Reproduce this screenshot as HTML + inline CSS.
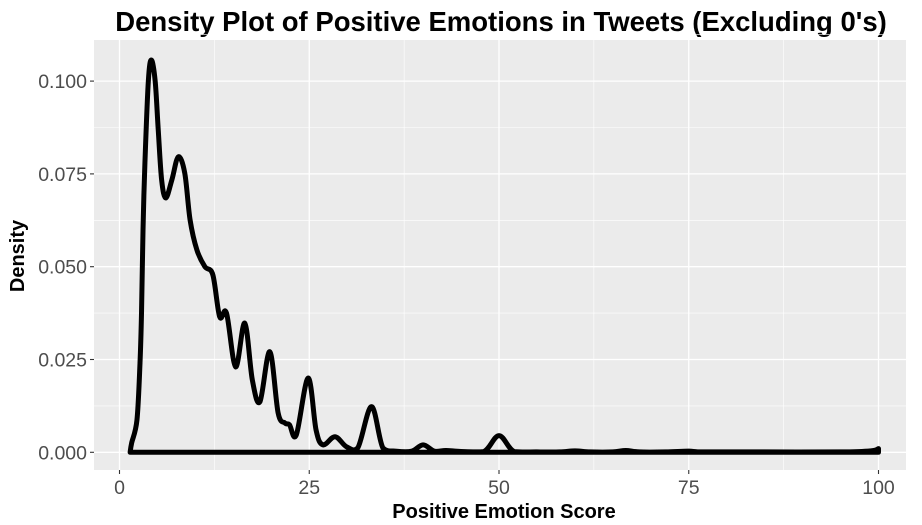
<!DOCTYPE html>
<html><head><meta charset="utf-8"><style>
body{margin:0;background:#fff;}
svg{display:block;font-family:"Liberation Sans",Arial,sans-serif;}
</style></head><body>
<svg id="chart" width="922" height="525">
<text x="501" y="31" text-anchor="middle" font-size="27.5" font-weight="bold" fill="#000">Density Plot of Positive Emotions in Tweets (Excluding 0's)</text>
<rect x="94" y="40" width="812" height="430" fill="#ebebeb"/>
<g id="grid"></g>
<g id="axes"></g>
<path id="curve" fill="none" stroke="#000" stroke-width="5" stroke-linejoin="round" stroke-linecap="round"/>
<text x="504" y="518" text-anchor="middle" font-size="20" font-weight="bold">Positive Emotion Score</text>
<text transform="translate(24,256) rotate(-90)" text-anchor="middle" font-size="20" font-weight="bold">Density</text>
</svg>
<script>
const xTicks=[0,25,50,75,100];
const yTicks=[0,0.025,0.05,0.075,0.1];
const yTickLabels=["0.000","0.025","0.050","0.075","0.100"];
const scores=[1.4,1.6,2.3,2.7,2.9,3.1,3.35,3.8,4.2,4.7,5.1,5.55,6.1,6.9,7.75,8.6,9.3,10.2,11.25,12.3,13.2,14.1,15.3,16.5,17.5,18.5,19.8,20.9,21.8,22.4,23.3,24.85,25.9,26.8,28.4,29.9,31.4,33.2,34.7,36.5,38.5,40,41.5,43,45,48,50,52,55,58,60,62,65,66.7,68.5,72,75,77,85,95,99,100];
const densities=[0,0.0025,0.0087,0.024,0.0375,0.06,0.078,0.1,0.1057,0.1,0.087,0.0734,0.0685,0.0734,0.0796,0.0752,0.0626,0.0545,0.05,0.0478,0.0365,0.0375,0.023,0.0348,0.0195,0.0136,0.0271,0.0106,0.0079,0.0074,0.0047,0.02,0.006,0.002,0.0042,0.0015,0.0012,0.0123,0.0012,0.0003,0.0003,0.0020,0.0003,0.0005,0.0002,0.0002,0.0045,0.0002,0.0001,0.0001,0.0004,0.0001,0.0001,0.0005,0.0001,0.0001,0.0003,0.0001,0.0001,0.0001,0.0004,0.001];
const X=v=>119.5+v*7.59, Y=v=>452.3-v*3712;
const ns="http://www.w3.org/2000/svg";
const grid=document.getElementById('grid'), axes=document.getElementById('axes');
function ln(p,x1,y1,x2,y2,c,w){const l=document.createElementNS(ns,'line');l.setAttribute('x1',x1);l.setAttribute('y1',y1);l.setAttribute('x2',x2);l.setAttribute('y2',y2);l.setAttribute('stroke',c);l.setAttribute('stroke-width',w);p.appendChild(l);return l;}
for(let i=0;i<xTicks.length-1;i++){const m=(xTicks[i]+xTicks[i+1])/2;const g=ln(grid,X(m),40,X(m),470,'#fff',0.6);

}
for(let i=0;i<yTicks.length-1;i++){const m=(yTicks[i]+yTicks[i+1])/2;const g=ln(grid,94,Y(m),906,Y(m),'#fff',0.6);

}
{const m=0.1125;const g=ln(grid,94,Y(m),906,Y(m),'#fff',0.6);

}
xTicks.forEach(t=>{const g=ln(grid,X(t),40,X(t),470,'#fff',1.3);


const tk=ln(axes,X(t),470,X(t),474,'#333',1.1);


const tx=document.createElementNS(ns,'text');tx.setAttribute('x',X(t));tx.setAttribute('y',494);tx.setAttribute('text-anchor','middle');tx.setAttribute('font-size','19.5');tx.setAttribute('fill','#4d4d4d');tx.textContent=t;


axes.appendChild(tx);});
yTicks.forEach((t,i)=>{const g=ln(grid,94,Y(t),906,Y(t),'#fff',1.3);


const tk=ln(axes,90,Y(t),94,Y(t),'#333',1.1);


const tx=document.createElementNS(ns,'text');tx.setAttribute('x',87);tx.setAttribute('y',Y(t)+7);tx.setAttribute('text-anchor','end');tx.setAttribute('font-size','19.5');tx.setAttribute('fill','#4d4d4d');tx.textContent=yTickLabels[i];


axes.appendChild(tx);});
const pts=scores.map((s,i)=>[X(s),Y(densities[i])]);
let d='M'+pts[0][0]+','+pts[0][1];
for(let i=0;i<pts.length-1;i++){const p0=pts[Math.max(0,i-1)],p1=pts[i],p2=pts[i+1],p3=pts[Math.min(pts.length-1,i+2)];
const c1=[p1[0]+(p2[0]-p0[0])/6,p1[1]+(p2[1]-p0[1])/6],c2=[p2[0]-(p3[0]-p1[0])/6,p2[1]-(p3[1]-p1[1])/6];
d+=` C${c1[0]},${Math.min(c1[1],Y(0))} ${c2[0]},${Math.min(c2[1],Y(0))} ${p2[0]},${p2[1]}`;}
d+=` L${X(100)},${Y(0)} L${X(scores[0])},${Y(0)} Z`;
document.getElementById('curve').setAttribute('d',d);
</script>
</body></html>
